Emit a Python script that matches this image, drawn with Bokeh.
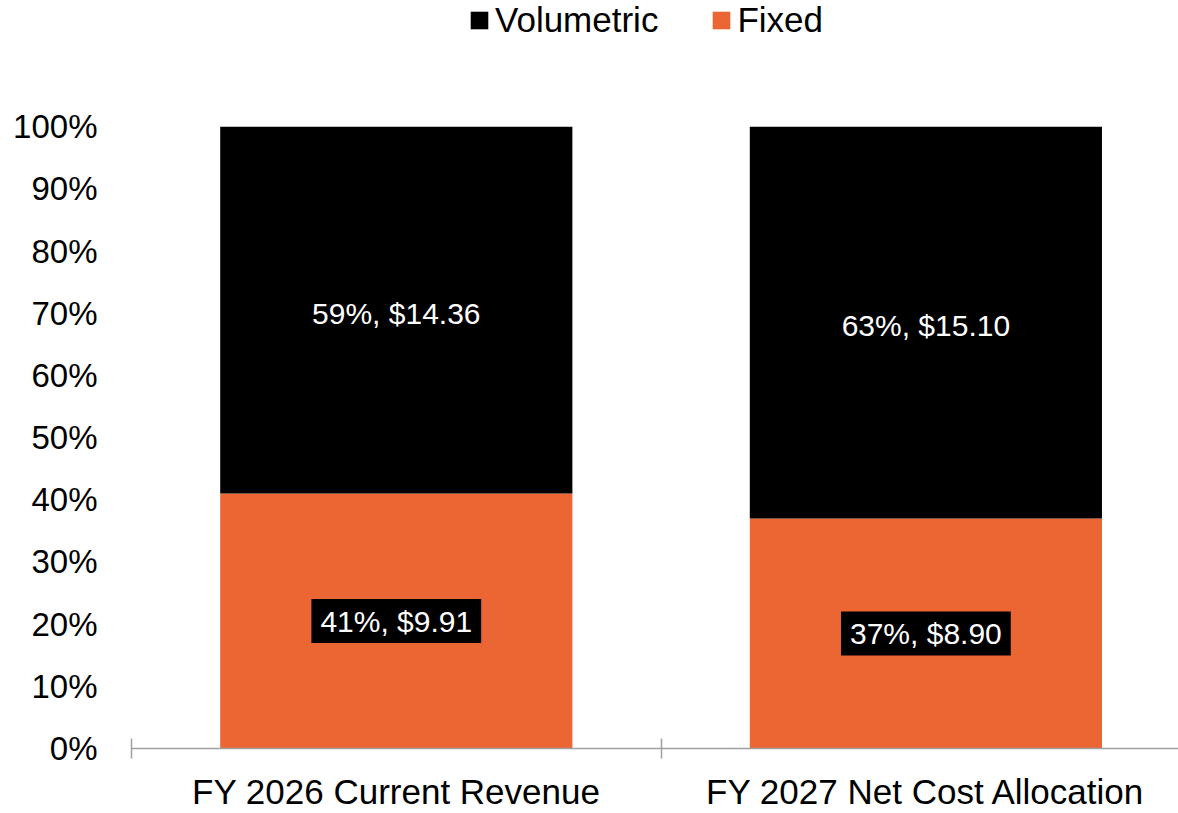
from bokeh.plotting import figure
from bokeh.models import Range1d, FixedTicker, NumeralTickFormatter, Legend, LegendItem, ColumnDataSource
from bokeh.core.properties import value
from bokeh.embed import file_html
from bokeh.resources import INLINE

categories = ["FY 2026 Current Revenue", "FY 2027 Net Cost Allocation"]
fixed_pct = [41, 37]
volumetric_pct = [59, 63]
fixed_amt = [9.91, 8.90]
volumetric_amt = [14.36, 15.10]

FONT = "Liberation Sans"
ORANGE = "#EC6634"
GREY = "#A0A0A0"

xs = [i + 0.5 for i in range(len(categories))]
fixed = [v / 100 for v in fixed_pct]
vol = [v / 100 for v in volumetric_pct]
top = [f + v for f, v in zip(fixed, vol)]

src = ColumnDataSource(dict(
    x=xs, fixed=fixed, top=top,
    fixed_mid=[f / 2 for f in fixed],
    vol_mid=[f + v / 2 for f, v in zip(fixed, vol)],
    fixed_lbl=[f"{p}%, ${a:.2f}" for p, a in zip(fixed_pct, fixed_amt)],
    vol_lbl=[f"{p}%, ${a:.2f}" for p, a in zip(volumetric_pct, volumetric_amt)],
))

p = figure(width=1178, height=813, output_backend="svg", toolbar_location=None,
           x_range=Range1d(0, 1.977), y_range=Range1d(0, 752 / 625),
           min_border_left=131, min_border_right=0, min_border_top=0, min_border_bottom=61)
p.outline_line_color = None
p.grid.visible = False

r_fixed = p.vbar(x="x", top="fixed", bottom=0, width=0.665, source=src,
                 fill_color=ORANGE, line_color=None)
r_vol = p.vbar(x="x", top="top", bottom="fixed", width=0.665, source=src,
               fill_color="black", line_color=None)

p.text(x="x", y="vol_mid", text="vol_lbl", source=src, text_color="white",
       text_font=value(FONT), text_font_size="30px", text_align="center",
       text_baseline="middle", y_offset=3)
p.text(x="x", y="fixed_mid", text="fixed_lbl", source=src, text_color="white",
       text_font=value(FONT), text_font_size="30px", text_align="center",
       text_baseline="middle", background_fill_color="black",
       padding=dict(left=9, right=9, top=6, bottom=5))

# x axis
xa = p.xaxis[0]
xa.ticker = FixedTicker(ticks=xs, minor_ticks=[0, 1, 2])
xa.major_label_overrides = {x: c for x, c in zip(xs, categories)}
xa.major_tick_line_color = None
xa.major_tick_in = 0
xa.major_tick_out = 0
xa.minor_tick_in = 10
xa.minor_tick_out = 10
xa.minor_tick_line_color = GREY
xa.minor_tick_line_width = 1.5
xa.axis_line_color = GREY
xa.axis_line_width = 1.5
xa.major_label_text_font = FONT
xa.major_label_text_font_size = "35px"
xa.major_label_text_color = "black"
xa.major_label_standoff = 13

# y axis
ya = p.yaxis[0]
ya.ticker = FixedTicker(ticks=[i / 10 for i in range(11)])
ya.formatter = NumeralTickFormatter(format="0%")
ya.axis_line_color = None
ya.major_tick_line_color = None
ya.minor_tick_line_color = None
ya.major_tick_in = 0
ya.major_tick_out = 0
ya.major_label_text_font = FONT
ya.major_label_text_font_size = "33px"
ya.major_label_text_color = "black"
ya.major_label_standoff = 34

legend = Legend(items=[LegendItem(label="Volumetric", renderers=[r_vol]),
                       LegendItem(label="Fixed", renderers=[r_fixed])],
                orientation="horizontal", location=(337, 708),
                label_text_font=FONT, label_text_font_size="35px",
                label_text_color="black",
                glyph_width=22, glyph_height=22, label_standoff=5, spacing=52,
                padding=0, margin=0, border_line_color=None,
                background_fill_alpha=0)
p.add_layout(legend, "center")

open("out.html", "w").write(file_html(p, INLINE))
